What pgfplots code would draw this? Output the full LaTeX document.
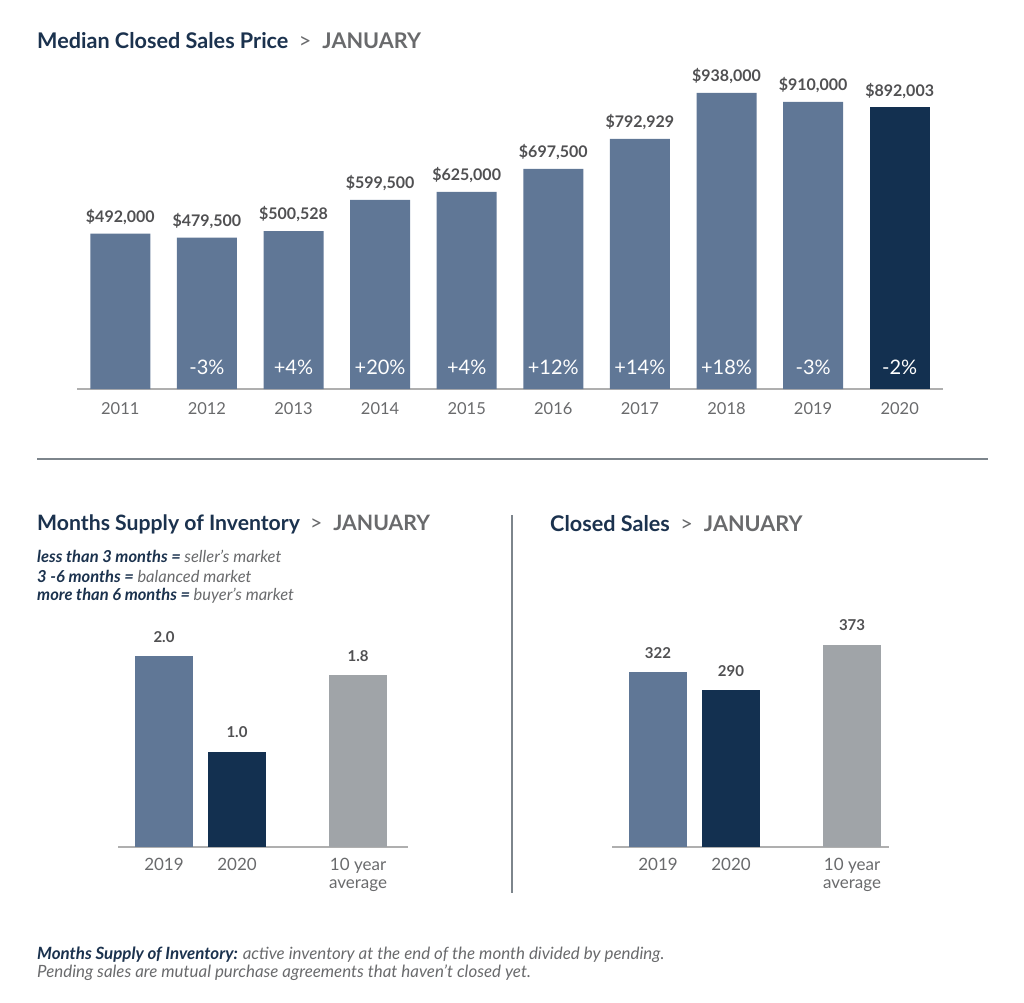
\documentclass[border=0pt]{standalone}
\usepackage{fontspec}
\setmainfont{Lato}
\usepackage{pgfplots}
\pgfplotsset{compat=1.18}
\definecolor{barblue}{RGB}{96,119,150}
\definecolor{barnavy}{RGB}{19,48,80}
\definecolor{bargray}{RGB}{160,164,168}
\definecolor{titlenavy}{RGB}{27,50,78}
\definecolor{txtgray}{RGB}{105,106,108}
\definecolor{lblgray}{RGB}{80,80,82}
\definecolor{axgray}{RGB}{175,175,175}
\definecolor{sepgray}{RGB}{125,133,140}
\newcommand{\fs}[2]{\fontsize{#1}{#2}\selectfont}
\pgfplotsset{
  barchart/.style={
    scale only axis, ymin=0, ybar, bar shift=0pt,
    axis x line*=bottom, axis y line=none,
    x axis line style={axgray, line width=1.5pt, -},
    major tick length=0pt,
    xticklabel style={anchor=north, inner sep=0pt, text=txtgray, align=center},
    nodes near coords, point meta=explicit symbolic,
    every node near coord/.append style={anchor=south, inner sep=0pt, text depth=0pt, text=lblgray},
    clip=false,
  }
}
\begin{document}
\begin{tikzpicture}[x=1pt,y=1pt]
\path[use as bounding box] (0,0) rectangle (1024,-1002);

% ---------- titles ----------
\node[anchor=west, inner sep=0pt] at (37,-41) {\fs{21.6}{25}\bfseries\color{titlenavy}Median Closed Sales Price\ \ \mdseries\color{txtgray}>\ \ \bfseries JANUARY};
\node[anchor=west, inner sep=0pt] at (37,-524) {\fs{21.2}{25}\bfseries\color{titlenavy}Months Supply of Inventory\ \ \mdseries\color{txtgray}>\ \ \bfseries JANUARY};
\node[anchor=west, inner sep=0pt] at (550,-524) {\fs{21.6}{25}\bfseries\color{titlenavy}Closed Sales\ \ \mdseries\color{txtgray}>\ \ \bfseries JANUARY};

\node[anchor=west, inner sep=0pt] at (37,-556) {\fs{16.5}{19}\itshape\bfseries\color{titlenavy}less than 3 months = \mdseries\color{txtgray}seller’s market};
\node[anchor=west, inner sep=0pt] at (37,-576) {\fs{16.5}{19}\itshape\bfseries\color{titlenavy}3 -6 months = \mdseries\color{txtgray}balanced market};
\node[anchor=west, inner sep=0pt] at (37,-596) {\fs{16.5}{19}\itshape\bfseries\color{titlenavy}more than 6 months = \mdseries\color{txtgray}buyer’s market};

\node[anchor=west, inner sep=0pt] at (37,-955) {\fs{16.9}{19}\itshape\bfseries\color{titlenavy}Months Supply of Inventory: \mdseries\color{txtgray}active inventory at the end of the month divided by pending.};
\node[anchor=west, inner sep=0pt] at (37,-973) {\fs{16.9}{19}\itshape\color{txtgray}Pending sales are mutual purchase agreements that haven’t closed yet.};

% separators
\draw[sepgray, line width=1.5pt] (37,-459) -- (988,-459);
\draw[sepgray, line width=1.5pt] (512,-515) -- (512,-893);

% ---------- top chart ----------
\begin{axis}[barchart,
  at={(77pt,-389pt)}, anchor=south west,
  width=866pt, height=315.6pt,
  xmin=-0.5, xmax=9.5, ymax=1000000,
  bar width=60pt,
  xtick={0,...,9},
  xticklabels={2011,2012,2013,2014,2015,2016,2017,2018,2019,2020},
  xticklabel style={font=\fs{16.5}{20}, yshift=-13pt},
  every node near coord/.append style={font=\fs{16}{19}\bfseries, yshift=11pt},
]
\addplot[fill=barblue, draw=none] coordinates {
(0,492000) [\$492,000]
(1,479500) [\$479,500]
(2,500528) [\$500,528]
(3,599500) [\$599,500]
(4,625000) [\$625,000]
(5,697500) [\$697,500]
(6,792929) [\$792,929]
(7,938000) [\$938,000]
(8,910000) [\$910,000]
};
\addplot[fill=barnavy, draw=none] coordinates {(9,892003) [\$892,003]};
\node[text=white, font=\fs{20}{22}] at (axis cs:1,0) [yshift=22pt] {-3\%};
\node[text=white, font=\fs{20}{22}] at (axis cs:2,0) [yshift=22pt] {+4\%};
\node[text=white, font=\fs{20}{22}] at (axis cs:3,0) [yshift=22pt] {+20\%};
\node[text=white, font=\fs{20}{22}] at (axis cs:4,0) [yshift=22pt] {+4\%};
\node[text=white, font=\fs{20}{22}] at (axis cs:5,0) [yshift=22pt] {+12\%};
\node[text=white, font=\fs{20}{22}] at (axis cs:6,0) [yshift=22pt] {+14\%};
\node[text=white, font=\fs{20}{22}] at (axis cs:7,0) [yshift=22pt] {+18\%};
\node[text=white, font=\fs{20}{22}] at (axis cs:8,0) [yshift=22pt] {-3\%};
\node[text=white, font=\fs{20}{22}] at (axis cs:9,0) [yshift=22pt] {-2\%};
\end{axis}

% ---------- months supply ----------
\begin{axis}[barchart,
  at={(118pt,-847pt)}, anchor=south west,
  width=290pt, height=238.75pt,
  xmin=-0.63, xmax=3.342, ymax=2.5,
  bar width=58pt,
  xtick={0,1,2.658},
  xticklabels={2019,2020,{10 year\\average}},
  xticklabel style={font=\fs{17}{17.5}, yshift=-11pt},
  every node near coord/.append style={font=\fs{15}{18}\bfseries, yshift=13.5pt},
]
\addplot[fill=barblue, draw=none] coordinates {(0,2.0) [2.0]};
\addplot[fill=barnavy, draw=none] coordinates {(1,1.0) [1.0]};
\addplot[fill=bargray, draw=none] coordinates {(2.658,1.8) [1.8]};
\end{axis}

% ---------- closed sales ----------
\begin{axis}[barchart,
  at={(612pt,-847pt)}, anchor=south west,
  width=277pt, height=244.1pt,
  xmin=-0.63, xmax=3.164, ymax=450,
  bar width=58pt,
  xtick={0,1,2.658},
  xticklabels={2019,2020,{10 year\\average}},
  xticklabel style={font=\fs{17}{17.5}, yshift=-11pt},
  every node near coord/.append style={font=\fs{15}{18}\bfseries, yshift=13.5pt},
]
\addplot[fill=barblue, draw=none] coordinates {(0,322) [322]};
\addplot[fill=barnavy, draw=none] coordinates {(1,290) [290]};
\addplot[fill=bargray, draw=none] coordinates {(2.658,373) [373]};
\end{axis}
\end{tikzpicture}
\end{document}
